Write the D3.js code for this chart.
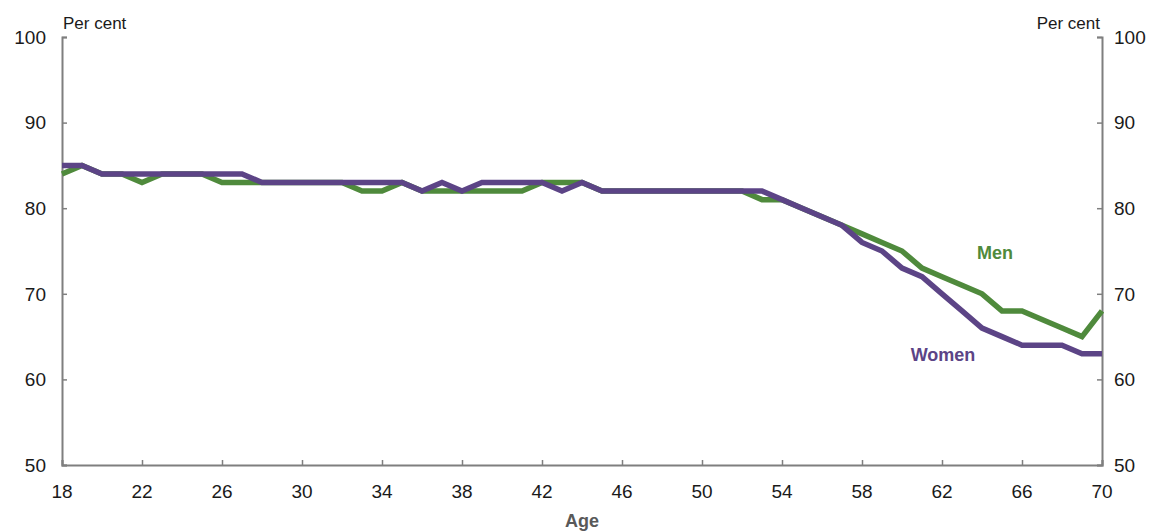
<!DOCTYPE html>
<html>
<head>
<meta charset="utf-8">
<script src="https://cdn.jsdelivr.net/npm/d3@7"></script>
<style>
  body { margin: 0; background: #fff; }
  svg { display: block; font-family: Arial, "Liberation Sans", sans-serif; }
</style>
</head>
<body>
<svg id="chart" width="1158" height="531"></svg>
<script>
const ages = d3.range(18, 71);
const men = [
  84,85,84,84,83,84,84,84,83,83,
  83,83,83,83,83,82,82,83,82,82,
  82,82,82,82,83,83,83,82,82,82,
  82,82,82,82,82,81,81,80,79,78,
  77,76,75,73,72,71,70,68,68,67,
  66,65,68];
const women = [
  85,85,84,84,84,84,84,84,84,84,
  83,83,83,83,83,83,83,83,82,83,
  82,83,83,83,83,82,83,82,82,82,
  82,82,82,82,82,82,81,80,79,78,
  76,75,73,72,70,68,66,65,64,64,
  64,63,63];
const xTicks = [18,22,26,30,34,38,42,46,50,54,58,62,66,70];
const yTicks = [50,60,70,80,90,100];
const seriesNames = ["Men", "Women"];
const colors = {Men: "#4F8A3C", Women: "#5C4486"};

const svg = d3.select("#chart");
const mL = 62, mR = 1102, mT = 37, mB = 465;
const x = d3.scaleLinear().domain([18, 70]).range([mL, mR]);
const y = d3.scaleLinear().domain([50, 100]).range([mB, mT]);
const axisColor = "#7f7f7f";

// axes
const gL = svg.append("g").attr("transform", `translate(${mL},0)`)
  .call(d3.axisRight(y).tickValues(yTicks).tickSize(5).tickFormat(""));
const gR = svg.append("g").attr("transform", `translate(${mR},0)`)
  .call(d3.axisLeft(y).tickValues(yTicks).tickSize(5).tickFormat(""));
const gB = svg.append("g").attr("transform", `translate(0,${mB})`)
  .call(d3.axisTop(x).tickValues(xTicks).tickSize(5).tickFormat(""));
[gL, gR, gB].forEach(g => {
  g.select(".domain").attr("stroke", axisColor).attr("stroke-width", 2);
  g.selectAll(".tick line").attr("stroke", axisColor).attr("stroke-width", 1.5);
});

// tick labels
svg.append("g").selectAll("text").data(yTicks).join("text")
  .attr("x", 46).attr("y", d => y(d)).attr("dy", "0.36em")
  .attr("text-anchor", "end").attr("font-size", 19).attr("fill", "#1a1a1a")
  .text(d => d);
svg.append("g").selectAll("text").data(yTicks).join("text")
  .attr("x", 1114).attr("y", d => y(d)).attr("dy", "0.36em")
  .attr("text-anchor", "start").attr("font-size", 19).attr("fill", "#1a1a1a")
  .text(d => d);
svg.append("g").selectAll("text").data(xTicks).join("text")
  .attr("x", d => x(d)).attr("y", 498)
  .attr("text-anchor", "middle").attr("font-size", 19).attr("fill", "#1a1a1a")
  .text(d => d);

svg.append("text").attr("x", 63).attr("y", 29).attr("font-size", 17).attr("fill", "#1a1a1a").text("Per cent");
svg.append("text").attr("x", 1100).attr("y", 29).attr("text-anchor", "end").attr("font-size", 17).attr("fill", "#1a1a1a").text("Per cent");
svg.append("text").attr("x", x(44)).attr("y", 527).attr("text-anchor", "middle").attr("font-size", 18).attr("font-weight", "bold").attr("fill", "#595959").text("Age");

// lines
const line = d3.line().x((d, i) => x(ages[i])).y(d => y(d));
[["Men", men], ["Women", women]].forEach(([name, vals]) => {
  svg.append("path").datum(vals)
    .attr("fill", "none").attr("stroke", colors[name]).attr("stroke-width", 5.5)
    .attr("stroke-linejoin", "miter").attr("d", line);
});

// labels
svg.append("text").attr("x", 995).attr("y", 259).attr("text-anchor", "middle")
  .attr("font-size", 18).attr("font-weight", "bold").attr("fill", colors.Men).text(seriesNames[0]);
svg.append("text").attr("x", 943).attr("y", 361).attr("text-anchor", "middle")
  .attr("font-size", 18).attr("font-weight", "bold").attr("fill", colors.Women).text(seriesNames[1]);
</script>
</body>
</html>
